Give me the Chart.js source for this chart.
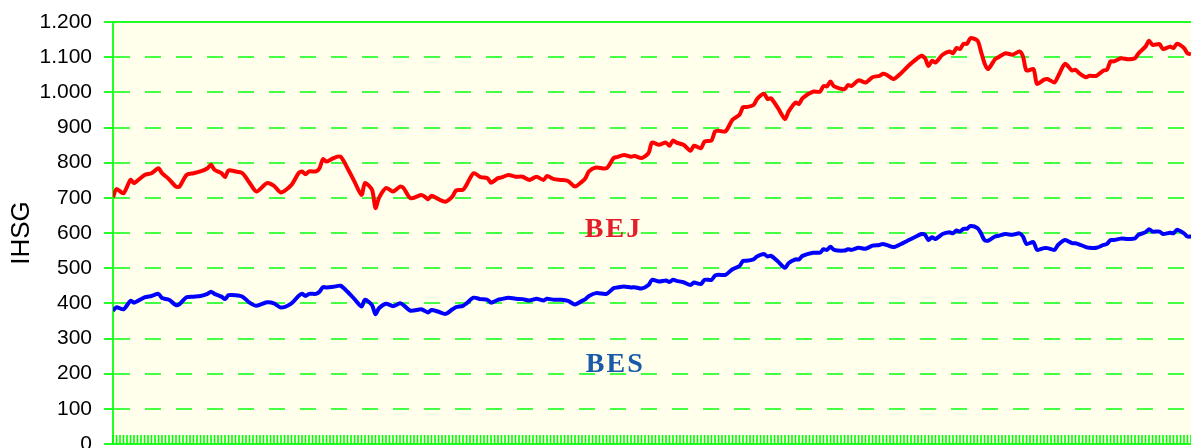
<!DOCTYPE html>
<html>
<head>
<meta charset="utf-8">
<script src="https://cdn.jsdelivr.net/npm/chart.js@4/dist/chart.umd.min.js"></script>
<style>
  html, body { margin: 0; padding: 0; background: #ffffff; }
  canvas { display: block; }
</style>
</head>
<body>
<canvas id="ihsgChart" width="1191" height="448"></canvas>
<script>
// week index of each reading (0 = first week on the axis)
const weeks = [
  0, 1, 3, 5, 6, 9, 11, 13, 14, 16, 18, 19, 21, 23, 25, 27, 28, 29, 31, 32,
  33, 35, 37, 39, 41, 44, 46, 48, 51, 53, 54, 55, 56, 58, 59, 60, 61, 63, 65, 67,
  69, 71, 72, 74, 75, 76, 78, 80, 82, 83, 85, 88, 89, 90, 91, 93, 95, 97, 98, 100,
  101, 103, 105, 107, 108, 110, 111, 113, 115, 117, 119, 121, 123, 124, 126, 128, 130, 132, 134, 135,
  136, 138, 141, 143, 144, 146, 148, 149, 151, 153, 154, 156, 158, 159, 160, 161, 163, 165, 166, 168,
  169, 171, 172, 173, 175, 177, 179, 180, 181, 183, 184, 186, 187, 188, 190, 192, 193, 195, 196, 197,
  200, 202, 203, 204, 205, 206, 209, 210, 211, 213, 215, 217, 219, 220, 221, 223, 225, 227, 229, 231,
  232, 233, 234, 235, 237, 239, 240, 241, 242, 243, 244, 245, 247, 248, 249, 250, 252, 253, 255, 257,
  259, 260, 261, 263, 264, 266, 267, 269, 270, 272, 274, 275, 276, 278, 279, 281, 283, 284, 285, 286,
  288, 290, 292, 293, 295, 296, 297, 299, 300, 302, 303, 304, 306, 307, 308
];

const bejValues = [
  702, 725, 713, 751, 742, 765, 770, 784, 770, 753, 732, 732, 765, 770, 775, 784, 794, 780, 770, 759,
  778, 775, 770, 743, 718, 742, 734, 715, 737, 770, 775, 767, 775, 775, 784, 810, 803, 813, 817, 784,
  746, 708, 742, 723, 671, 700, 728, 718, 732, 728, 699, 708, 704, 696, 706, 696, 689, 704, 721, 723,
  737, 770, 759, 756, 743, 756, 758, 765, 760, 760, 751, 760, 751, 762, 753, 751, 748, 732, 746, 756,
  775, 786, 784, 813, 816, 822, 817, 819, 813, 827, 857, 851, 857, 848, 863, 857, 851, 834, 848, 841,
  860, 863, 889, 891, 889, 922, 936, 958, 958, 964, 981, 996, 981, 983, 955, 924, 945, 971, 967, 983,
  1002, 1002, 1018, 1017, 1031, 1017, 1009, 1021, 1018, 1034, 1028, 1043, 1047, 1053, 1050, 1038, 1053, 1073, 1090, 1104,
  1097, 1075, 1090, 1085, 1107, 1116, 1111, 1126, 1123, 1138, 1138, 1154, 1147, 1116, 1083, 1066, 1094, 1100, 1111, 1107,
  1116, 1102, 1062, 1066, 1024, 1036, 1038, 1028, 1045, 1081, 1062, 1064, 1055, 1043, 1047, 1047, 1062, 1064, 1088, 1088,
  1097, 1094, 1097, 1111, 1130, 1147, 1135, 1137, 1123, 1130, 1126, 1138, 1126, 1111, 1108
];

const besValues = [
  379, 389, 383, 407, 402, 417, 421, 427, 415, 410, 395, 398, 417, 419, 421, 427, 433, 427, 419, 412,
  423, 423, 419, 402, 393, 403, 400, 388, 400, 421, 427, 421, 427, 427, 433, 446, 445, 447, 450, 433,
  412, 391, 410, 395, 369, 386, 399, 392, 400, 395, 379, 383, 379, 374, 381, 376, 370, 383, 389, 393,
  400, 416, 412, 410, 402, 410, 412, 416, 413, 412, 408, 413, 408, 413, 410, 410, 407, 397, 407, 412,
  421, 429, 427, 443, 445, 448, 445, 446, 442, 452, 467, 462, 465, 461, 467, 464, 460, 452, 459, 455,
  467, 467, 479, 481, 481, 497, 506, 521, 521, 525, 533, 540, 533, 535, 519, 501, 514, 525, 525, 535,
  544, 544, 554, 552, 561, 552, 550, 554, 552, 558, 555, 564, 566, 569, 566, 560, 568, 578, 588, 597,
  595, 580, 588, 583, 597, 602, 599, 607, 604, 612, 612, 620, 614, 599, 580, 578, 590, 592, 597, 595,
  599, 590, 569, 574, 552, 557, 557, 552, 566, 580, 571, 571, 568, 560, 558, 558, 566, 569, 580, 580,
  584, 583, 585, 595, 602, 611, 604, 604, 597, 601, 599, 609, 599, 590, 590
];

const lastWeek = 308;
const yMin = 0;
const yMax = 1200;
const yStep = 100;

const seriesNames = ['BEJ', 'BES'];
const seriesColors = ['#ff0000', '#0000ff'];

// text labels placed inside the plot, in data units
const notes = [
  { text: 'BEJ', week: 143, value: 609, color: '#e3202a' },
  { text: 'BES', week: 143.5, value: 226, color: '#1a5aa8' }
];

const GREEN = '#22ff22';

function dotThousands(v) {
  return String(v).replace(/\B(?=(\d{3})+(?!\d))/g, '.');
}

// pale plot background, top frame line, inward x ticks and the labels
const plotFrame = {
  id: 'plotFrame',
  beforeDraw(chart) {
    const { ctx, chartArea: a } = chart;
    ctx.save();
    ctx.fillStyle = '#ffffec';
    ctx.fillRect(a.left, a.top, a.right - a.left, a.bottom - a.top);
    ctx.restore();
  },
  beforeDatasetsDraw(chart) {
    const { ctx, chartArea: a } = chart;
    const xs = chart.scales.x;
    ctx.save();
    ctx.strokeStyle = GREEN;
    ctx.lineWidth = 2;
    ctx.beginPath();
    ctx.moveTo(a.left, a.top);
    ctx.lineTo(a.right, a.top);
    ctx.stroke();
    ctx.lineWidth = 1.6;
    ctx.strokeStyle = '#00ff00';
    ctx.beginPath();
    xs.ticks.forEach(t => {
      const px = xs.getPixelForValue(t.value);
      ctx.moveTo(px, a.bottom);
      ctx.lineTo(px, a.bottom - 9);
    });
    ctx.stroke();
    ctx.restore();
  },
  afterDatasetsDraw(chart) {
    const { ctx } = chart;
    const xs = chart.scales.x, ys = chart.scales.y;
    ctx.save();
    ctx.font = 'bold 28px "Liberation Serif", "Times New Roman", serif';
    ctx.textAlign = 'center';
    ctx.textBaseline = 'middle';
    ctx.letterSpacing = '2px';
    notes.forEach(n => {
      ctx.fillStyle = n.color;
      ctx.fillText(n.text, xs.getPixelForValue(n.week), ys.getPixelForValue(n.value));
    });
    ctx.restore();
  }
};

const ihsgChart = new Chart(document.getElementById('ihsgChart'), {
  type: 'line',
  data: {
    datasets: [
      {
        label: seriesNames[0],
        data: weeks.map((w, i) => ({ x: w, y: bejValues[i] })),
        borderColor: seriesColors[0],
        borderWidth: 4,
        pointRadius: 0,
        tension: 0.25,
        fill: false
      },
      {
        label: seriesNames[1],
        data: weeks.map((w, i) => ({ x: w, y: besValues[i] })),
        borderColor: seriesColors[1],
        borderWidth: 4,
        pointRadius: 0,
        tension: 0.25,
        fill: false
      }
    ]
  },
  options: {
    responsive: false,
    animation: false,
    devicePixelRatio: 1,
    layout: { padding: { left: 0, right: 0, top: 22, bottom: 4 } },
    plugins: {
      legend: { display: false },
      title: { display: false },
      tooltip: { enabled: false }
    },
    scales: {
      x: {
        type: 'linear',
        min: 0,
        max: lastWeek,
        ticks: { display: false, stepSize: 1 },
        grid: { display: false, drawTicks: false },
        border: { display: true, color: GREEN, width: 2 }
      },
      y: {
        min: yMin,
        max: yMax,
        afterFit(scale) {
          scale.width = 113;
          scale.paddingTop = 0;
          scale.paddingBottom = 0;
        },
        ticks: {
          stepSize: yStep,
          padding: 12,
          color: '#000000',
          font: { family: '"Liberation Sans", Arial, sans-serif', size: 21 },
          callback: v => dotThousands(v)
        },
        grid: {
          color: '#44ff44',
          lineWidth: 2,
          tickLength: 9,
          tickColor: GREEN,
          tickWidth: 2
        },
        border: { display: true, color: GREEN, width: 2, dash: [16, 15] },
        title: {
          display: true,
          text: 'IHSG',
          color: '#000000',
          padding: { top: 6, bottom: 0 },
          font: { family: '"Liberation Sans", Arial, sans-serif', size: 26 }
        }
      }
    }
  },
  plugins: [plotFrame]
});
</script>
</body>
</html>
